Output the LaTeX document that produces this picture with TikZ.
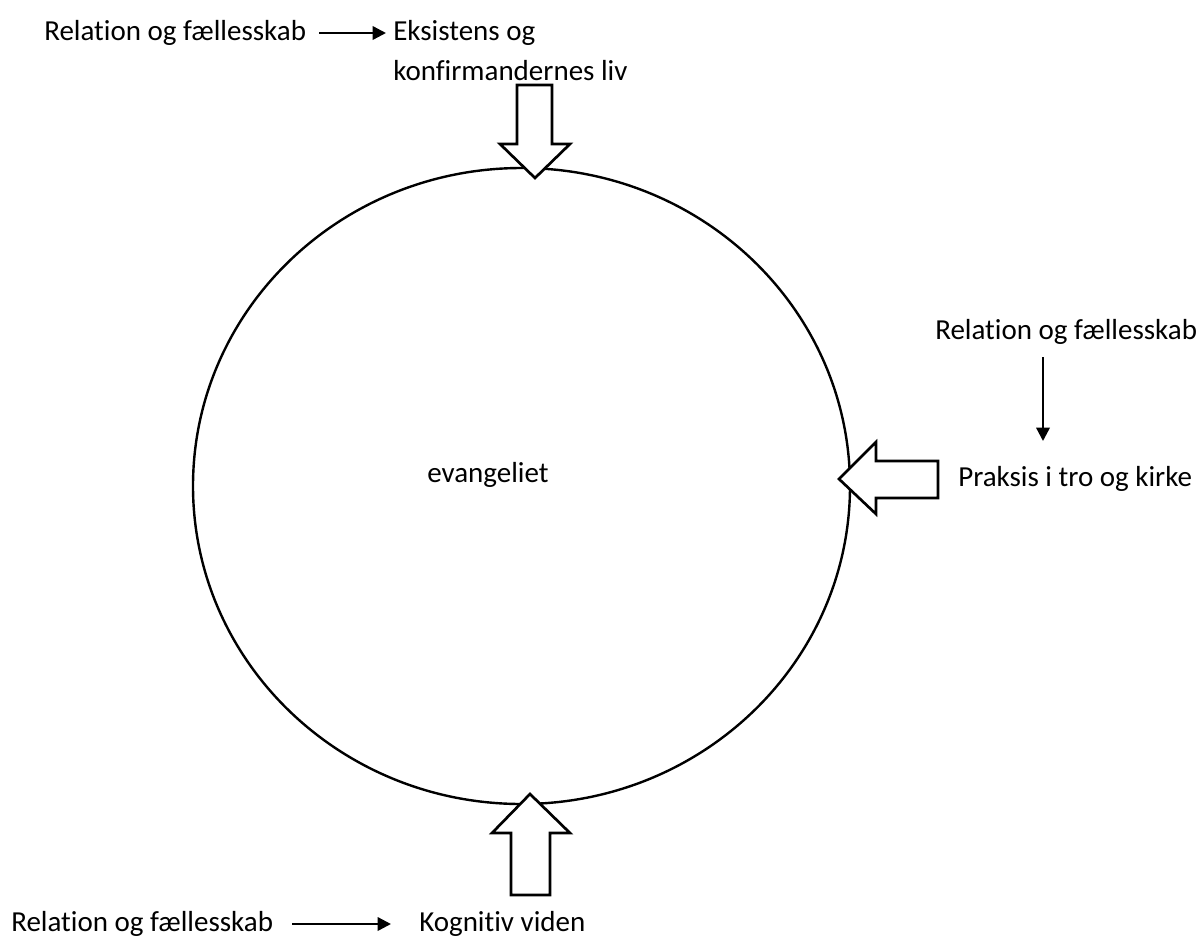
\documentclass[tikz,border=0pt]{standalone}
\usepackage{fontspec}
\setmainfont{Carlito}[Ligatures={NoCommon}]
\usetikzlibrary{arrows.meta}
\begin{document}
\begin{tikzpicture}[x=0.75pt,y=-0.75pt,
  lbl/.style={anchor=base west,inner sep=0pt,font=\fontsize{21.75pt}{26pt}\selectfont},
  thinarrow/.style={line width=1.8pt,-{Triangle[length=10pt,width=10pt]}},
  blockarrow/.style={draw,line width=2pt,fill=white,line join=miter},
  ring/.style={draw,line width=1.8pt}]
\useasboundingbox[fill=white] (0,0) rectangle (1203,940);
% circle
\draw[ring] (521.5,486) ellipse [x radius=328.5, y radius=318];
\node[lbl] (ev) at (427,482) {evangeliet};
% top
\node[lbl] (rel1) at (44,40) {Relation og fællesskab};
\node[lbl] (eks1) at (393,40) {Eksistens og};
\node[lbl] (eks2) at (393,80) {konfirmandernes liv};
\coordinate (a1s) at (319,33);
\coordinate (a1e) at (386,33);
\draw[thinarrow] (a1s) -- (a1e);
\draw[blockarrow] (517,85) -- (552,85) -- (552,144) -- (570,144) -- (535,178) -- (500,144) -- (517,144) -- cycle;
% right
\node[lbl] (rel2) at (935,339) {Relation og fællesskab};
\node[lbl] (prak) at (958,486) {Praksis i tro og kirke};
\coordinate (a2s) at (1043,357);
\coordinate (a2e) at (1043,441);
\draw[thinarrow] (a2s) -- (a2e);
\draw[blockarrow] (938,461) -- (938,498) -- (876,498) -- (876,514) -- (839,479) -- (876,442) -- (876,461) -- cycle;
% bottom
\node[lbl] (rel3) at (11,931) {Relation og fællesskab};
\node[lbl] (kog) at (419,931) {Kognitiv viden};
\coordinate (a3s) at (292,924);
\coordinate (a3e) at (391,924);
\draw[thinarrow] (a3s) -- (a3e);
\draw[blockarrow] (511,895) -- (550,895) -- (550,833) -- (570,833) -- (530,794) -- (492,833) -- (511,833) -- cycle;
\end{tikzpicture}
\end{document}
